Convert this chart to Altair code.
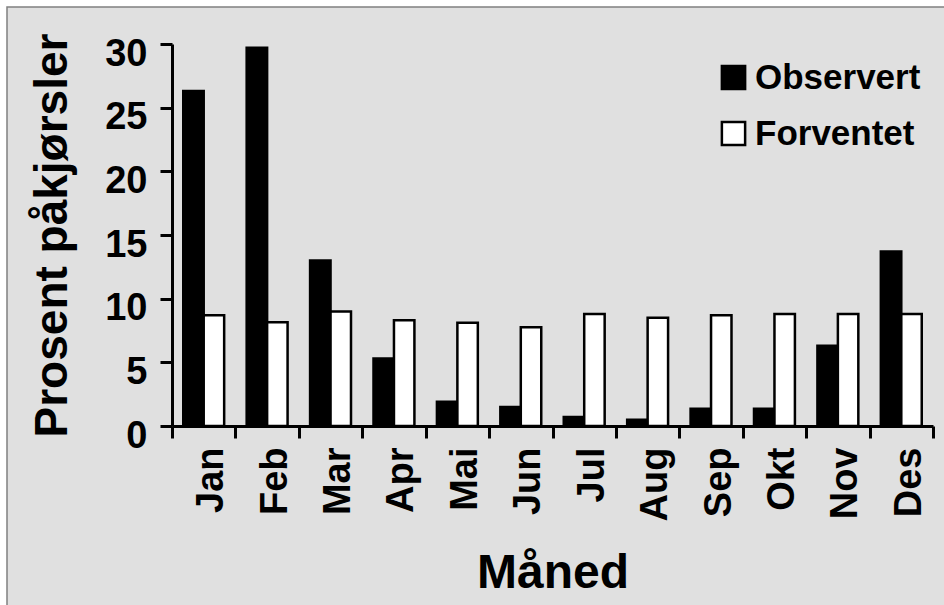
import altair as alt
import pandas as pd

# Monthly share of collisions: observed vs. expected (percent)
months = ["Jan", "Feb", "Mar", "Apr", "Mai", "Jun", "Jul", "Aug", "Sep", "Okt", "Nov", "Des"]
observert = [26.3, 29.7, 13.0, 5.3, 1.9, 1.5, 0.7, 0.5, 1.35, 1.35, 6.3, 13.7]
forventet = [8.7, 8.15, 9.0, 8.3, 8.1, 7.75, 8.8, 8.5, 8.7, 8.8, 8.8, 8.8]
series = ["Observert", "Forventet"]
y_ticks = [0, 5, 10, 15, 20, 25, 30]

rows = []
for m, o, f in zip(months, observert, forventet):
    rows.append({"month": m, "serie": "Observert", "value": o})
    rows.append({"month": m, "serie": "Forventet", "value": f})
df = pd.DataFrame(rows)

FONT = "Liberation Sans"
W, H = 761, 382

# grey panel with a thin frame behind the plot
frame = alt.Chart(pd.DataFrame({"k": [0]})).mark_rect(
    fill="#e0e0e0", stroke="#808080", strokeWidth=1.5, clip=False
).encode(
    x=alt.value(-165), x2=alt.value(W + 20),
    y=alt.value(-37), y2=alt.value(H + 200),
)

bars = alt.Chart(df).mark_bar(stroke="black", strokeWidth=2.5).encode(
    x=alt.X(
        "month:N", sort=months,
        scale=alt.Scale(paddingInner=0, paddingOuter=0),
        axis=alt.Axis(
            title="Måned", labelAngle=270, tickBand="extent",
            labelPadding=9, labelOffset=8, titlePadding=29,
            titleFontSize=48, zindex=2,
        ),
    ),
    xOffset=alt.XOffset(
        "serie:N", sort=series,
        scale=alt.Scale(paddingInner=0, paddingOuter=0.55),
    ),
    y=alt.Y(
        "value:Q",
        scale=alt.Scale(domain=[0, 30], nice=False),
        axis=alt.Axis(
            title="Prosent påkjørsler", values=y_ticks,
            labelPadding=13, labelBaseline="middle", labelOffset=10,
            titlePadding=28, titleFontSize=46, zindex=2,
        ),
    ),
    fill=alt.Color(
        "serie:N",
        scale=alt.Scale(domain=series, range=["black", "white"]),
        legend=alt.Legend(
            title=None, orient="none", legendX=544, legendY=16,
            symbolType="square", symbolSize=540, symbolStrokeColor="black",
            symbolStrokeWidth=2.5, symbolOpacity=1,
            labelFont=FONT, labelFontWeight="bold", labelFontSize=35,
            labelColor="black", labelOffset=4, labelLimit=400,
            rowPadding=20, padding=0,
        ),
    ),
)

chart = alt.layer(frame, bars).properties(
    width=W, height=H,
    autosize=alt.AutoSizeParams(type="none"),
    padding={"left": 172, "top": 44, "right": 11, "bottom": 179},
    background="white",
).configure_view(
    stroke=None
).configure_axis(
    grid=False,
    domainColor="black", domainWidth=3,
    tickColor="black", tickWidth=3, tickSize=12,
    labelFont=FONT, labelFontWeight="bold", labelFontSize=38, labelColor="black",
    titleFont=FONT, titleFontWeight="bold", titleFontSize=47, titleColor="black",
)

chart.save("out.html", embed_options={"renderer": "svg", "actions": False})
